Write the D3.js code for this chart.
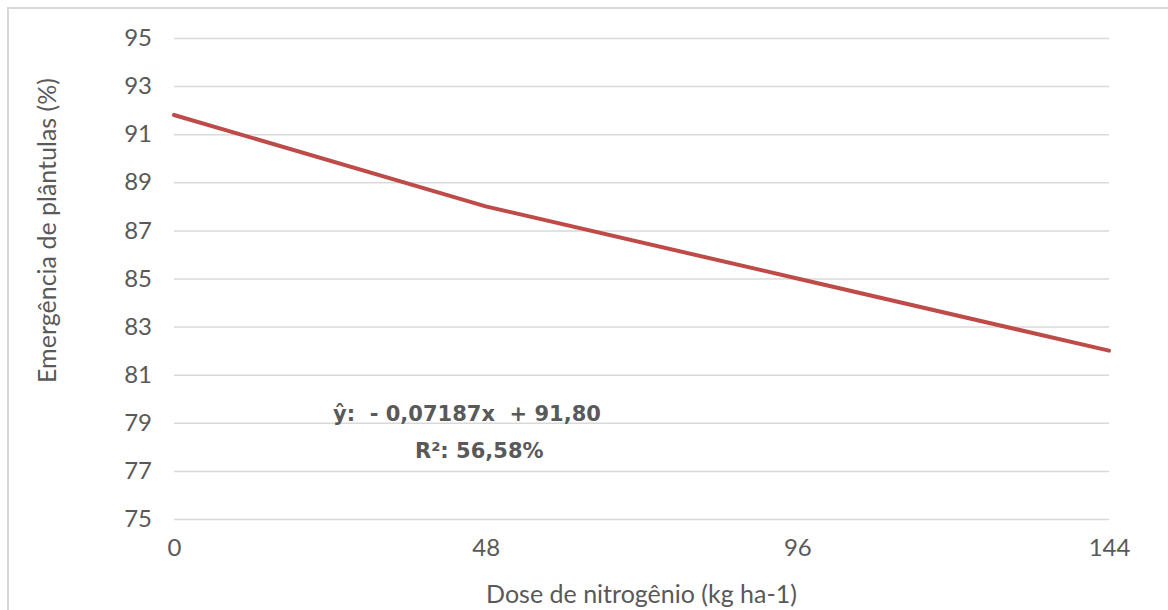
<!DOCTYPE html>
<html>
<head>
<meta charset="utf-8">
<script src="https://cdn.jsdelivr.net/npm/d3@7"></script>
<style>
  body { margin: 0; background: #fff; }
  svg { display: block; }
  text { font-family: Lato, "Open Sans", sans-serif; fill: #595959; }
</style>
</head>
<body>
<svg id="chart"></svg>
<script>
// Data
const doses = [0, 48, 96, 144];
const emergence = [91.8, 88.0, 85.0, 82.0];
const yTicks = [75, 77, 79, 81, 83, 85, 87, 89, 91, 93, 95];
const equationLines = ["ŷ:  - 0,07187x  + 91,80", "R²: 56,58%"];

// Set up dimensions and margins
const W = 1168, H = 610;
const margin = { top: 38, right: 59, bottom: 91, left: 174 };
const width = W - margin.left - margin.right;
const height = H - margin.top - margin.bottom;

const root = d3.select("#chart").attr("width", W).attr("height", H);

// chart border (runs off the right and bottom of the image)
root.append("rect")
    .attr("x", 8).attr("y", 8)
    .attr("width", W).attr("height", H)
    .attr("fill", "none")
    .attr("stroke", "#d9d9d9")
    .attr("stroke-width", 2);

const svg = root.append("g")
    .attr("transform", `translate(${margin.left},${margin.top})`);

const x = d3.scaleLinear().domain([0, 144]).range([0, width]);
const y = d3.scaleLinear().domain([75, 95]).range([height, 0]);

// horizontal gridlines + y labels
svg.append("g")
    .call(d3.axisLeft(y).tickValues(yTicks).tickSize(-width).tickPadding(22))
    .call(g => g.select(".domain").remove())
    .call(g => g.selectAll(".tick line").attr("stroke", "#d9d9d9").attr("stroke-width", 1.5))
    .call(g => g.selectAll(".tick text")
        .style("font-family", "Lato, sans-serif")
        .style("font-size", "24px")
        .attr("fill", "#595959"));

// x labels
svg.append("g")
    .attr("transform", `translate(0,${height})`)
    .call(d3.axisBottom(x).tickValues(doses).tickSize(0).tickPadding(20))
    .call(g => g.select(".domain").remove())
    .call(g => g.selectAll(".tick text")
        .style("font-family", "Lato, sans-serif")
        .style("font-size", "24px")
        .attr("fill", "#595959"));

// the line
const line = d3.line()
    .x((d, i) => x(doses[i]))
    .y(d => y(d));

svg.append("path")
    .datum(emergence)
    .attr("d", line)
    .attr("fill", "none")
    .attr("stroke", "#be4b48")
    .attr("stroke-width", 4)
    .attr("stroke-linecap", "round");

// axis titles
svg.append("text")
    .attr("x", width / 2)
    .attr("y", height + 84)
    .attr("text-anchor", "middle")
    .style("font-size", "25px")
    .text("Dose de nitrogênio (kg ha-1)");

svg.append("text")
    .attr("text-anchor", "middle")
    .attr("transform", `translate(-118,${height / 2 - 48})rotate(-90)`)
    .style("font-size", "25px")
    .text("Emergência de plântulas (%)");

// regression equation
const eq = svg.append("text")
    .style("font-family", "'DejaVu Sans', sans-serif")
    .style("font-weight", "bold")
    .style("font-size", "21px")
    .style("white-space", "pre")
    .attr("fill", "#000");
eq.append("tspan").attr("x", 333 - margin.left).attr("y", 421 - margin.top).text(equationLines[0]);
eq.append("tspan").attr("x", 415 - margin.left).attr("y", 458 - margin.top).text(equationLines[1]);
</script>
</body>
</html>
